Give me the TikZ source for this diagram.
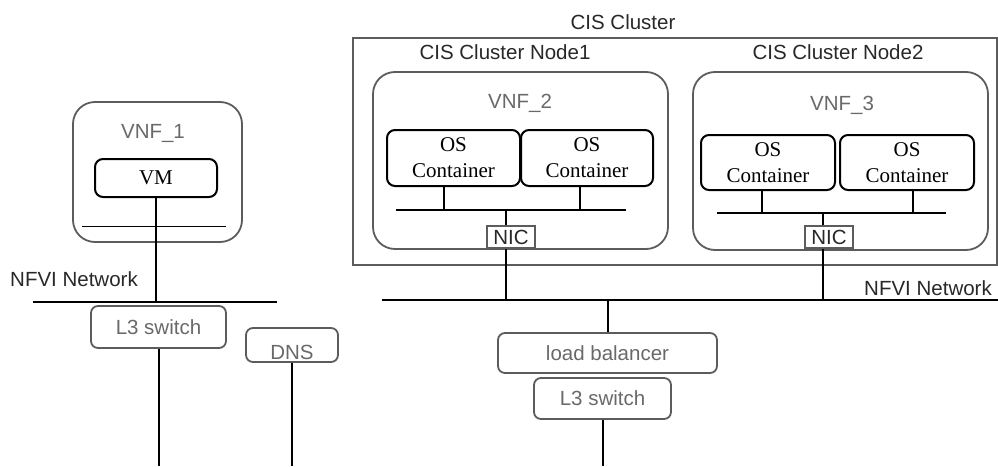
\documentclass[tikz,border=0pt]{standalone}
\usepackage{fontspec}
\setmainfont{Liberation Sans}
\newfontfamily\serifface{Liberation Serif}
\usetikzlibrary{calc}
\definecolor{boxgray}{RGB}{92,92,92}
\definecolor{textgray}{RGB}{105,105,105}
\definecolor{labelink}{RGB}{40,40,40}
\tikzset{
  every node/.style={font=\fontsize{20.5}{24}\selectfont, text=labelink},
  vnfbox/.style={draw=boxgray, line width=1.8pt, rounded corners=22pt, inner sep=0pt},
  osbox/.style={draw=black, line width=2pt, rounded corners=8pt, inner sep=0pt, align=center,
    text=black, font=\serifface\fontsize{21}{26}\selectfont},
  netbox/.style={draw=boxgray, line width=1.8pt, rounded corners=7pt, inner sep=0pt, text=textgray},
  nicbox/.style={draw=boxgray, line width=1.5pt, inner sep=0pt, text=labelink},
  lbl/.style={inner sep=0pt},
  wire/.style={line width=2pt}
}
\begin{document}
\begin{tikzpicture}[x=1pt,y=-1pt]
\path[use as bounding box] (0,0) rectangle (998,466);
\coordinate (bottom) at (0,466);
\node[lbl] (clusterlbl) at (623,22) {CIS Cluster};
\node[draw=boxgray, line width=2pt, minimum width=644pt, minimum height=227pt, inner sep=0pt] (cluster) at (675,151.5) {};
\node[lbl] (node1lbl) at (505,52) {CIS Cluster Node1};
\node[lbl] (node2lbl) at (838,52) {CIS Cluster Node2};
\node[vnfbox, minimum width=169pt, minimum height=140pt] (vnf1) at (157.5,172) {};
\node[lbl, text=textgray] (vnf1lbl) at (153,133) {VNF\_1};
\node[osbox, minimum width=122pt, minimum height=38pt] (vm) at (156,178) {VM};
\draw[line width=1pt] (82,226) coordinate (vnf1a) -- (226,226) coordinate (vnf1b);
\coordinate (netLa) at (33,302);
\coordinate (netLb) at (277,302);
\draw[wire] (netLa) -- (netLb);
\node[lbl] (netLlbl) at (74,279) {NFVI Network};
\draw[wire] (vm.south) -- (vm.south |- netLa);
\node[netbox, minimum width=135pt, minimum height=42pt] (l3a) at (158.5,327) {L3 switch};
\draw[wire] (l3a.south) -- (l3a.south |- bottom);
\node[netbox, minimum width=92pt, minimum height=34pt] (dns) at (292,345) {};
\node[lbl, text=textgray] (dnslbl) at (292,352) {DNS};
\draw[wire] (dns.south) -- (dns.south |- bottom);
\node[vnfbox, minimum width=295pt, minimum height=177pt] (vnf2) at (520.5,160.5) {};
\node[lbl, text=textgray] (vnf2lbl) at (520,103) {VNF\_2};
\node[osbox, minimum width=133pt, minimum height=56pt] (os1) at (453.5,158) {OS\\Container};
\node[osbox, minimum width=132pt, minimum height=56pt] (os2) at (587,158) {OS\\Container};
\coordinate (bus2a) at (396,210);
\coordinate (bus2b) at (626,210);
\draw[wire] (bus2a) -- (bus2b);
\coordinate (os1p) at ([xshift=-9.5pt]os1.south);
\coordinate (os2p) at ([xshift=-7pt]os2.south);
\draw[wire] (os1p) -- (os1p |- bus2a);
\draw[wire] (os2p) -- (os2p |- bus2a);
\node[nicbox, minimum width=48pt, minimum height=22pt] (nic1) at (511,237) {NIC};
\coordinate (nic1p) at ([xshift=-5pt]nic1.north);
\node[vnfbox, minimum width=295pt, minimum height=178pt] (vnf3) at (840.5,161) {};
\node[lbl, text=textgray] (vnf3lbl) at (842,105) {VNF\_3};
\node[osbox, minimum width=134pt, minimum height=55pt] (os3) at (768,162.5) {OS\\Container};
\node[osbox, minimum width=134pt, minimum height=55pt] (os4) at (907,162.5) {OS\\Container};
\coordinate (bus3a) at (717,213);
\coordinate (bus3b) at (946,213);
\draw[wire] (bus3a) -- (bus3b);
\coordinate (os3p) at ([xshift=-6pt]os3.south);
\coordinate (os4p) at ([xshift=6pt]os4.south);
\draw[wire] (os3p) -- (os3p |- bus3a);
\draw[wire] (os4p) -- (os4p |- bus3a);
\node[nicbox, minimum width=48pt, minimum height=22pt] (nic2) at (829,237) {NIC};
\coordinate (nic2p) at ([xshift=-6pt]nic2.north);
\coordinate (netRa) at (382,300);
\coordinate (netRb) at (998,300);
\draw[wire] (netRa) -- (netRb);
\node[lbl] (netRlbl) at (928,288) {NFVI Network};
\draw[wire] (nic1p |- bus2a) -- (nic1p);
\draw[wire] (nic1p |- nic1.south) -- (nic1p |- netRa);
\draw[wire] (nic2p |- bus3a) -- (nic2p);
\draw[wire] (nic2p |- nic2.south) -- (nic2p |- netRa);
\node[netbox, minimum width=219pt, minimum height=40pt] (lb) at (607.5,353) {load balancer};
\draw[wire] (lb.north |- netRa) -- (lb.north);
\node[netbox, minimum width=137pt, minimum height=41pt] (l3b) at (602.5,398.5) {L3 switch};
\draw[wire] (l3b.south) -- (l3b.south |- bottom);
\end{tikzpicture}
\end{document}
